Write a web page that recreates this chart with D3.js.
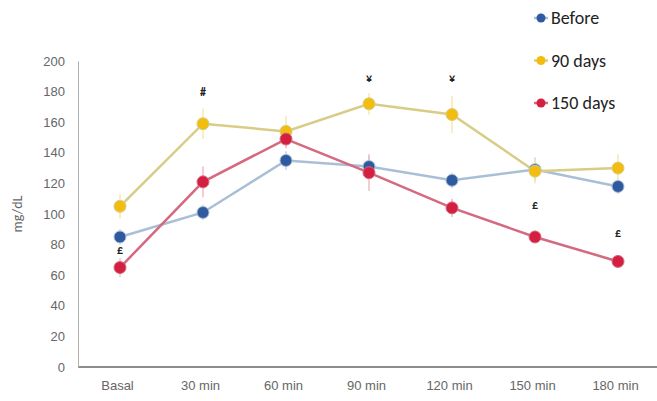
<!DOCTYPE html>
<html>
<head>
<meta charset="utf-8">
<script src="https://cdn.jsdelivr.net/npm/d3@7"></script>
<style>
  body { margin: 0; background: #fff; }
  svg { display: block; font-family: Calibri, Carlito, "Liberation Sans", "Open Sans", sans-serif; }
</style>
</head>
<body>
<div id="chart"></div>
<script>
// chart data
let categories = ["Basal", "30 min", "60 min", "90 min", "120 min", "150 min", "180 min"]
let seriesNames = ["Before", "90 days", "150 days"]
let beforeVals = [85, 101, 135, 131, 122, 129, 118]
let days90Vals = [105, 159, 154, 172, 165, 128, 130]
let days150Vals = [65, 121, 149, 127, 104, 85, 69]
let beforeErr = [5, 5, 6, 7, 5, 8, 5]
let days90Err = [8, 10, 10, 7, 12, 8, 9]
let days150Err = [6, 10, 6, 12, 6, 4, 3]
let yTicks = [0, 20, 40, 60, 80, 100, 120, 140, 160, 180, 200]
// significance marks: [category, value, symbol]
let marks = [["30 min", 177, "#"], ["90 min", 186, "¥"], ["120 min", 186, "¥"],
             ["Basal", 74, "£"], ["150 min", 103, "£"], ["180 min", 85, "£"]]

let width = 657, height = 401
let margin = {top: 61, left: 78, right: 8, bottom: 34}

let svg = d3.select("#chart")
    .append("svg")
    .attr("width", width)
    .attr("height", height)

let x = d3.scalePoint()
    .domain(categories)
    .range([120, 618])

let y = d3.scaleLinear()
    .domain([0, 200])
    .range([height - margin.bottom, margin.top])

// axes
let xAxis = svg.append("g")
    .attr("transform", `translate(0, ${y(0)})`)
    .call(d3.axisBottom(x).tickSize(0).tickPadding(14))
xAxis.select(".domain").attr("d", `M${margin.left},0H${width}`).attr("stroke", "#8c8c8c").attr("stroke-width", 2)
xAxis.selectAll("text").attr("fill", "#666").style("font-size", "13px").attr("dx", -3)

let yAxis = svg.append("g")
    .attr("transform", `translate(${margin.left}, 0)`)
    .call(d3.axisLeft(y).tickValues(yTicks).tickSize(0).tickPadding(13))
yAxis.select(".domain").attr("stroke", "#b0b0b0").attr("stroke-width", 1)
yAxis.selectAll("text").attr("fill", "#666").style("font-size", "13px")

svg.append("text")
    .attr("transform", `translate(22, ${y(100)}) rotate(-90)`)
    .attr("text-anchor", "middle")
    .attr("fill", "#666")
    .style("font-size", "14px")
    .text("mg/dL")

let series = [
    {name: seriesNames[0], vals: beforeVals, err: beforeErr, line: "#a9bfd6", dot: "#2f5aa0", bar: "#c4d2e6"},
    {name: seriesNames[1], vals: days90Vals, err: days90Err, line: "#d8cc86", dot: "#f2bd0f", bar: "#f6e8ac"},
    {name: seriesNames[2], vals: days150Vals, err: days150Err, line: "#d46a80", dot: "#d42040", bar: "#eebcc6"}
]

let line = d3.line()
    .x((d, i) => x(categories[i]))
    .y(d => y(d))

// error bars
series.forEach(function(s) {
    svg.append("g")
        .selectAll("line")
        .data(s.vals)
        .enter()
        .append("line")
        .attr("x1", (d, i) => x(categories[i]))
        .attr("x2", (d, i) => x(categories[i]))
        .attr("y1", (d, i) => y(d - s.err[i]))
        .attr("y2", (d, i) => y(d + s.err[i]))
        .attr("stroke", s.bar)
        .attr("stroke-width", 1.5)
})

// lines
series.forEach(function(s) {
    svg.append("path")
        .datum(s.vals)
        .attr("d", line)
        .attr("fill", "none")
        .attr("stroke", s.line)
        .attr("stroke-width", 2.5)
})

// markers
series.forEach(function(s) {
    svg.append("g")
        .selectAll("circle")
        .data(s.vals)
        .enter()
        .append("circle")
        .attr("cx", (d, i) => x(categories[i]))
        .attr("cy", d => y(d))
        .attr("r", 6)
        .attr("fill", s.dot)
        .attr("stroke", s.line)
        .attr("stroke-width", 1)
})

// significance symbols
svg.append("g")
    .selectAll("text")
    .data(marks)
    .enter()
    .append("text")
    .attr("x", d => x(d[0]))
    .attr("y", d => y(d[1]))
    .attr("text-anchor", "middle")
    .attr("fill", "#222")
    .style("font-size", "12px")
    .style("font-weight", "bold")
    .text(d => d[2])

// legend
let legend = svg.append("g")
    .attr("transform", "translate(541, 18)")

let items = legend.selectAll("g")
    .data(series)
    .enter()
    .append("g")
    .attr("transform", (d, i) => `translate(0, ${i * 42.5})`)

items.append("line")
    .attr("x1", -7).attr("x2", 7)
    .attr("stroke", d => d.line)
    .attr("stroke-width", 2.5)
items.append("circle")
    .attr("r", 4.5)
    .attr("fill", d => d.dot)
items.append("text")
    .attr("x", 10)
    .attr("dy", "0.35em")
    .style("font-size", "18px")
    .attr("fill", "#222")
    .text(d => d.name)
</script>
</body>
</html>
